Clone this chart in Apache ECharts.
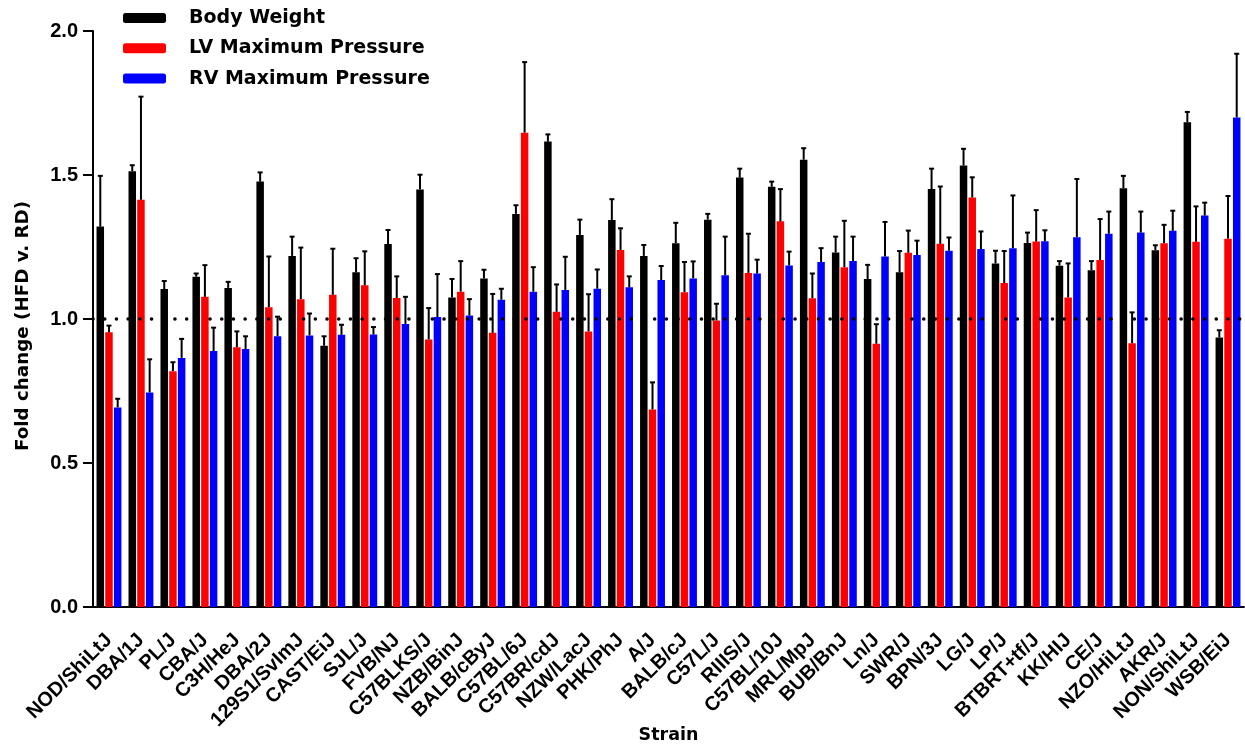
<!DOCTYPE html>
<html>
<head>
<meta charset="utf-8">
<script src="https://cdn.jsdelivr.net/npm/echarts@6/dist/echarts.min.js"></script>
<style>html,body{margin:0;padding:0;background:#fff}#c{width:1245px;height:747px}</style>
</head>
<body>
<div id="c"></div>
<script>
const categories = ["NOD/ShiLtJ","DBA/1J","PL/J","CBA/J","C3H/HeJ","DBA/2J","129S1/SvImJ","CAST/EiJ","SJL/J","FVB/NJ","C57BLKS/J","NZB/BinJ","BALB/cByJ","C57BL/6J","C57BR/cdJ","NZW/LacJ","PHK/PhJ","A/J","BALB/cJ","C57L/J","RIIIS/J","C57BL/10J","MRL/MpJ","BUB/BnJ","Ln/J","SWR/J","BPN/3J","LG/J","LP/J","BTBRT+tf/J","KK/HIJ","CE/J","NZO/HiLtJ","AKR/J","NON/ShiLtJ","WSB/EiJ"];
const bodyWeight = [1.321,1.513,1.104,1.147,1.108,1.477,1.219,0.907,1.162,1.260,1.450,1.075,1.141,1.365,1.616,1.292,1.344,1.219,1.263,1.345,1.491,1.459,1.553,1.231,1.139,1.162,1.451,1.533,1.193,1.264,1.185,1.169,1.454,1.239,1.683,0.936];
const bodyWeightErr = [0.176,0.021,0.028,0.011,0.021,0.032,0.067,0.033,0.049,0.049,0.051,0.064,0.030,0.030,0.025,0.053,0.072,0.038,0.071,0.020,0.031,0.018,0.040,0.055,0.049,0.074,0.071,0.058,0.044,0.036,0.016,0.032,0.043,0.017,0.036,0.025];
const lvPressure = [0.954,1.414,0.819,1.077,0.902,1.041,1.069,1.084,1.117,1.073,0.929,1.095,0.952,1.647,1.025,0.957,1.240,0.686,1.093,0.995,1.160,1.339,1.072,1.180,0.914,1.230,1.261,1.422,1.125,1.269,1.075,1.205,0.916,1.263,1.268,1.279];
const lvPressureErr = [0.023,0.358,0.031,0.110,0.055,0.176,0.179,0.160,0.118,0.075,0.109,0.106,0.135,0.245,0.095,0.129,0.075,0.094,0.105,0.058,0.136,0.112,0.086,0.161,0.068,0.077,0.199,0.070,0.111,0.109,0.118,0.142,0.107,0.064,0.123,0.148];
const rvPressure = [0.693,0.745,0.865,0.889,0.896,0.940,0.943,0.945,0.946,0.983,1.007,1.012,1.067,1.095,1.101,1.105,1.110,1.135,1.141,1.152,1.158,1.186,1.198,1.201,1.217,1.222,1.237,1.243,1.246,1.270,1.284,1.296,1.300,1.306,1.359,1.700];
const rvPressureErr = [0.030,0.115,0.066,0.081,0.044,0.068,0.076,0.035,0.026,0.094,0.149,0.057,0.038,0.085,0.115,0.067,0.038,0.049,0.059,0.134,0.048,0.048,0.048,0.085,0.120,0.050,0.046,0.061,0.183,0.038,0.202,0.077,0.073,0.070,0.045,0.221];
const yTicks = [0, 0.5, 1.0, 1.5, 2.0];
const referenceLevel = 1.0;

const seriesNames = ["Body Weight","LV Maximum Pressure","RV Maximum Pressure"];
const seriesValues = [bodyWeight, lvPressure, rvPressure];
const seriesErrs = [bodyWeightErr, lvPressureErr, rvPressureErr];
const colors = ["#000000","#ff0000","#0000ff"];

const BAR_W = 7.5, BAR_GAP_RATIO = 0.16;
const FONT = "'Liberation Sans', Arial, sans-serif";
const WIDE = "'DejaVu Sans', sans-serif";

const chart = echarts.init(document.getElementById('c'), null, {renderer:'canvas'});

const series = [];
seriesNames.forEach((name, k) => {
  series.push({
    name: name, type: 'bar', data: seriesValues[k], barWidth: BAR_W, barGap: (BAR_GAP_RATIO*100)+'%',
    itemStyle: {color: colors[k]}, z: 2, silent: true
  });
});
seriesNames.forEach((name, k) => {
  const gap = BAR_W * BAR_GAP_RATIO;
  const offset = (k - 1) * (BAR_W + gap);
  series.push({
    type: 'custom', z: 3, silent: true,
    data: seriesValues[k].map((v, i) => [i, v, v + seriesErrs[k][i]]),
    encode: {x: 0, y: [1, 2]},
    renderItem: function (params, api) {
      const p0 = api.coord([api.value(0), api.value(1)]);
      const p1 = api.coord([api.value(0), api.value(2)]);
      const x = p0[0] + offset;
      const st = {stroke: '#000', lineWidth: 2};
      return {type: 'group', children: [
        {type: 'line', shape: {x1: x, y1: p0[1], x2: x, y2: p1[1]}, style: st},
        {type: 'line', shape: {x1: x - 2.5, y1: p1[1], x2: x + 2.5, y2: p1[1]}, style: st}
      ]};
    }
  });
});
series.push({
  type: 'line', data: [], z: 1, silent: true,
  markLine: {
    silent: true, symbol: 'none', label: {show: false},
    lineStyle: {color: '#000', width: 3.5, type: [0.1, 11.6], cap: 'round'},
    data: [{yAxis: referenceLevel}]
  }
});

chart.setOption({
  animation: false,
  backgroundColor: '#fff',
  grid: {left: 93, right: 1, top: 31, bottom: 140, containLabel: false, outerBoundsMode: 'none'},
  legend: {
    data: seriesNames.map((n, k) => ({name: n, icon: 'roundRect', itemStyle: {color: colors[k]}})),
    orient: 'vertical', left: 123, top: 8, padding: 0, itemWidth: 43, itemHeight: 10, itemGap: 10.3,
    textStyle: {fontFamily: WIDE, fontWeight: 'bold', fontSize: 19, color: '#000', padding: [0,0,0,18], lineHeight: 20}
  },
  xAxis: {
    type: 'category', data: categories, boundaryGap: true,
    name: 'Strain', nameLocation: 'middle', nameGap: 119, nameMoveOverlap: false,
    nameTextStyle: {fontFamily: WIDE, fontWeight: 'bold', fontSize: 17.5, color: '#000'},
    axisLine: {lineStyle: {color: '#000', width: 2}},
    axisTick: {alignWithLabel: true, interval: 0, length: 10, lineStyle: {color: '#000', width: 2}},
    axisLabel: {interval: 0, rotate: 45, margin: 30, fontFamily: FONT, fontWeight: 'bold', fontSize: 20, color: '#000'},
    splitLine: {show: false}
  },
  yAxis: {
    type: 'value', min: yTicks[0], max: yTicks[yTicks.length-1], interval: yTicks[1]-yTicks[0],
    name: 'Fold change (HFD v. RD)', nameLocation: 'middle', nameGap: 61,
    nameTextStyle: {fontFamily: WIDE, fontWeight: 'bold', fontSize: 18.3, color: '#000', padding: [0,14,0,0]},
    axisLine: {show: true, lineStyle: {color: '#000', width: 2}},
    axisTick: {show: true, length: 10, lineStyle: {color: '#000', width: 2}},
    axisLabel: {margin: 15, fontFamily: FONT, fontWeight: 'bold', fontSize: 20, color: '#000', formatter: v => v.toFixed(1)},
    splitLine: {show: false}
  },
  series: series
});
</script>
</body>
</html>
